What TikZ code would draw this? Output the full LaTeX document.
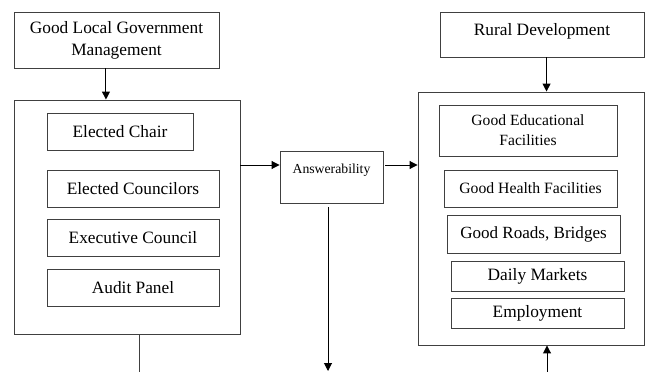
\documentclass[tikz,border=0pt]{standalone}
\usepackage{fontspec}
\setmainfont{Liberation Serif}
\usetikzlibrary{arrows.meta, positioning, calc}

\begin{document}
\begin{tikzpicture}[
  x=0.75pt, y=-0.75pt,
  plainbox/.style={draw=black!75, line width=0.7pt, align=center, inner sep=2pt,
    font=\fontsize{13}{16.5}\selectfont},
  flowarrow/.style={draw=black, line width=0.75pt, -{Triangle[length=6pt, width=6pt]}},
  flowline/.style={draw=black!75, line width=0.75pt}
]
  \useasboundingbox (0,0) rectangle (645,371);

  % Left side: management
  \node[plainbox, minimum width=153.75pt, minimum height=42pt] (mgmt) at (116.5,40)
    {Good Local Government\\Management};
  \node[plainbox, minimum width=169.5pt, minimum height=175.5pt] (lgroup) at (127,217) {};
  \node[plainbox, minimum width=109.5pt, minimum height=27.75pt] (chair) at (120,131.5) {Elected Chair};
  \node[plainbox, minimum width=129pt, minimum height=27.75pt] (councilors) at (133,188.5) {Elected Councilors};
  \node[plainbox, minimum width=129pt, minimum height=27.75pt] (executive) at (133,237.5) {Executive Council};
  \node[plainbox, minimum width=129pt, minimum height=27.75pt] (audit) at (133,287.5) {Audit Panel};

  % Middle
  \node[plainbox, minimum width=77.25pt, minimum height=39pt, font=\fontsize{10.3}{12}\selectfont, text depth=12.5pt] (answer) at (331.5,177) {Answerability};

  % Right side: development
  \node[plainbox, minimum width=153pt, minimum height=33.75pt, text depth=8pt] (rural) at (542,34.5) {Rural Development};
  \node[plainbox, minimum width=169.5pt, minimum height=189.75pt] (rgroup) at (531,218.5) {};
  \node[plainbox, minimum width=133.5pt, minimum height=38.25pt, font=\fontsize{11.7}{15}\selectfont] (education) at (528,130.5)
    {Good Educational\\Facilities};
  \node[plainbox, minimum width=129.75pt, minimum height=27.75pt, font=\fontsize{11.8}{14}\selectfont] (health) at (530.5,188.5) {Good Health Facilities};
  \node[plainbox, minimum width=129.75pt, minimum height=28.5pt, font=\fontsize{12.8}{15}\selectfont] (roads) at (533.5,234) {Good Roads, Bridges};
  \node[plainbox, minimum width=129.75pt, minimum height=22.5pt] (markets) at (537.5,276) {Daily Markets};
  \node[plainbox, minimum width=129.75pt, minimum height=22.5pt] (employment) at (537.5,313) {Employment};

  % Free ends below the picture
  \coordinate (lout) at (139,380);
  \coordinate (aout) at (328,371);
  \coordinate (rin) at (547,380);

  % Connectors
  \draw[flowarrow] ([xshift=-7.9pt]mgmt.south) -- ([xshift=-7.9pt]mgmt.south |- lgroup.north);
  \draw[flowarrow] ([yshift=9pt]answer.west -| lgroup.east) -- ([yshift=9pt]answer.west);
  \draw[flowarrow] ([xshift=1.5pt, yshift=9pt]answer.east) -- ([yshift=9pt]answer.east -| rgroup.west);
  \draw[flowarrow] ([xshift=3.4pt]rural.south) -- ([xshift=3.4pt]rural.south |- rgroup.north);
  \draw[flowarrow] ([yshift=-3pt]answer.south -| aout) -- (aout);
  \draw[flowline] (lgroup.south -| lout) -- (lout);
  \draw[flowarrow] (rin) -- (rin |- rgroup.south);
\end{tikzpicture}
\end{document}
